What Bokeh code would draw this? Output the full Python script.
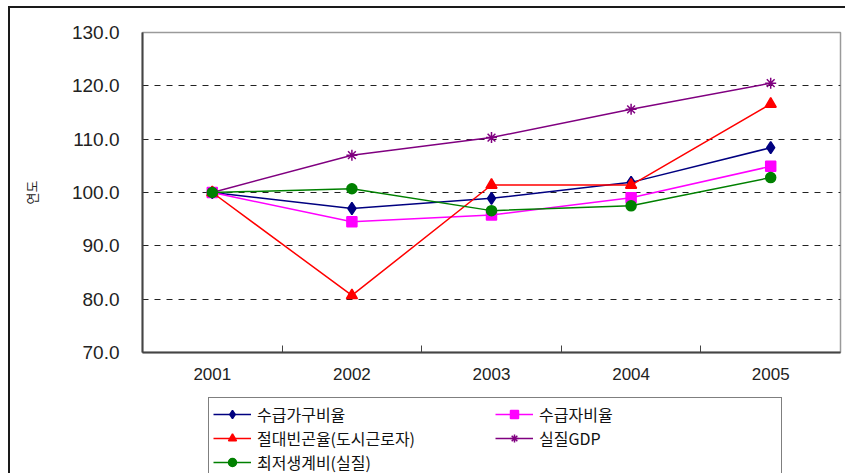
from bokeh.plotting import figure
from bokeh.layouts import column
from bokeh.models import (FixedTicker, NumeralTickFormatter, Legend,
                          LegendItem, ColumnDataSource, Range1d)
from bokeh.embed import file_html
from bokeh.resources import INLINE

years = ["2001", "2002", "2003", "2004", "2005"]
x_pos = [1, 2, 3, 4, 5]
household_ratio = [100.0, 97.0, 98.9, 101.9, 108.4]      # 수급가구비율
recipient_ratio = [100.0, 94.5, 95.8, 99.0, 104.9]       # 수급자비율
absolute_poverty = [100.0, 80.7, 101.4, 101.4, 116.6]    # 절대빈곤율(도시근로자)
real_gdp = [100.0, 107.0, 110.3, 115.6, 120.5]           # 실질GDP
min_cost = [100.0, 100.7, 96.6, 97.5, 102.8]             # 최저생계비(실질)
y_ticks = [70, 80, 90, 100, 110, 120, 130]

KR = "Noto Sans CJK KR"
NUM = "Liberation Sans"

p = figure(width=835, height=384, output_backend="svg", toolbar_location=None,
           x_range=Range1d(0.5, 5.5), y_range=Range1d(70, 130),
           min_border_left=132, min_border_right=5, min_border_top=24,
           min_border_bottom=40)
p.outline_line_color = "#9a9a9a"
p.outline_line_width = 1.5
p.xgrid.visible = False
p.ygrid.ticker = FixedTicker(ticks=y_ticks)
p.ygrid.grid_line_color = "#222222"
p.ygrid.grid_line_dash = "6 6"
p.ygrid.grid_line_width = 1

# x axis: labels at category centres, tick marks (minor) at category boundaries
boundaries = [x + 0.5 for x in x_pos[:-1]]
p.xaxis.ticker = FixedTicker(ticks=x_pos, minor_ticks=boundaries)
p.xaxis.major_label_overrides = {x: y for x, y in zip(x_pos, years)}
p.xaxis.major_tick_in = 0
p.xaxis.major_tick_out = 0
p.xaxis.major_tick_line_color = None
p.xaxis.minor_tick_in = 7
p.xaxis.minor_tick_out = 0
p.xaxis.minor_tick_line_color = "#444444"
p.xaxis.minor_tick_line_width = 1
p.xaxis.axis_line_color = "#444444"
p.xaxis.axis_line_width = 2
p.xaxis.major_label_text_font = NUM
p.xaxis.major_label_text_font_size = "17px"
p.xaxis.major_label_text_color = "#222222"
p.xaxis.major_label_standoff = 15

p.yaxis.ticker = FixedTicker(ticks=y_ticks)
p.yaxis.formatter = NumeralTickFormatter(format="0.0")
p.yaxis.major_label_text_font = NUM
p.yaxis.major_label_text_font_size = "19px"
p.yaxis.major_label_text_color = "#222222"
p.yaxis.major_label_standoff = 23
p.yaxis.major_tick_out = 0
p.yaxis.major_tick_in = 0
p.yaxis.minor_tick_line_color = None
p.yaxis.axis_line_color = "#444444"
p.yaxis.axis_line_width = 2
p.yaxis.axis_label = "연도"
p.yaxis.axis_label_text_font = KR
p.yaxis.axis_label_text_font_size = "13px"
p.yaxis.axis_label_text_font_style = "normal"
p.yaxis.axis_label_text_color = "#222222"
p.yaxis.axis_label_standoff = 28

series = [
    ("수급가구비율", household_ratio, "#000080", "diamond", 12),
    ("수급자비율", recipient_ratio, "#ff00ff", "square", 10),
    ("절대빈곤율(도시근로자)", absolute_poverty, "#ff0000", "triangle", 11),
    ("실질GDP", real_gdp, "#800080", "asterisk", 11),
    ("최저생계비(실질)", min_cost, "#008000", "circle", 10),
]

# Legend panel (separate figure below the chart; its ranges show none of the data)
q = figure(width=835, height=81, output_backend="svg", toolbar_location=None,
           x_range=Range1d(100, 101), y_range=Range1d(0, 1),
           min_border_left=0, min_border_right=0, min_border_top=0,
           min_border_bottom=0)
q.axis.visible = False
q.grid.visible = False
q.outline_line_color = None

items = {}
for name, vals, color, marker, size in series:
    src = ColumnDataSource(dict(x=x_pos, y=vals))
    p.line("x", "y", source=src, line_color=color, line_width=1.5)
    p.scatter("x", "y", source=src, marker=marker, size=size,
              fill_color=color, line_color=color, line_width=1.5)
    l1 = q.line("x", "y", source=src, line_color=color, line_width=1.5)
    l2 = q.scatter("x", "y", source=src, marker=marker, size=size,
                   fill_color=color, line_color=color, line_width=1.5)
    items[name] = [l1, l2]

# column-major fill: first column then second column
order = ["수급가구비율", "절대빈곤율(도시근로자)", "최저생계비(실질)", "수급자비율", "실질GDP"]
legend = Legend(items=[LegendItem(label=n, renderers=items[n]) for n in order],
                location=(66, -6), orientation="vertical", ncols=2,
                border_line_color="#000000", border_line_width=1,
                background_fill_color="white", background_fill_alpha=1,
                label_text_font=KR, label_text_font_size="16px",
                label_text_color="#111111",
                glyph_width=38, glyph_height=20, label_height=20,
                label_width=238, label_standoff=6, spacing=0, padding=4,
                margin=0)
q.add_layout(legend, "center")

layout = column(p, q, spacing=0)
layout.styles = {"margin-left": "8px", "margin-top": "6px",
                 "border-left": "2px solid #1a1a1a", "border-top": "2px solid #1a1a1a"}

open("out.html", "w").write(file_html(layout, INLINE))
